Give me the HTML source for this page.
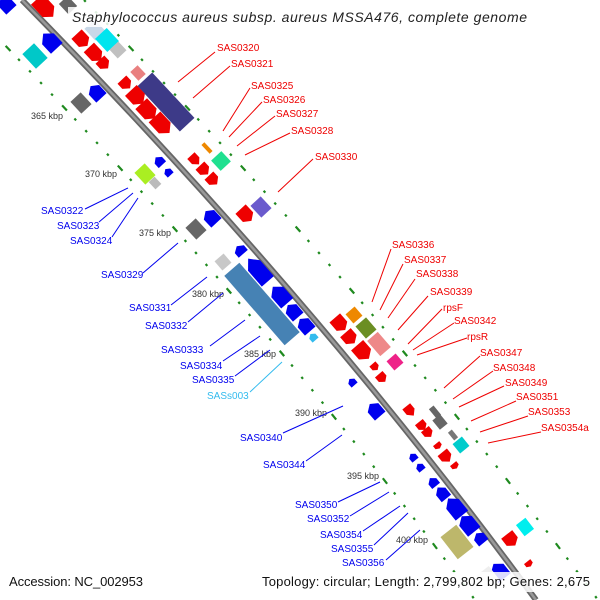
<!DOCTYPE html>
<html><head><meta charset="utf-8"><style>
html,body{margin:0;padding:0;background:#fff;}
svg{display:block;font-family:"Liberation Sans","DejaVu Sans",sans-serif;}
</style></head><body>
<svg width="600" height="600" viewBox="0 0 600 600" xmlns="http://www.w3.org/2000/svg">
<defs>
<path id="bb" d="M22,0 Q316.5,300 536,600"/>
</defs>
<g fill="none" stroke="#1f8a1f" stroke-width="2.2" stroke-dasharray="2.5 13.5 2.5 13.5 2.5 13.5 2.5 13.5 7 11">
<use href="#bb" transform="translate(-61,0)"/>
<use href="#bb" transform="translate(62,0)"/>
</g>
<use href="#bb" fill="none" stroke="#666" stroke-width="6"/>
<use href="#bb" fill="none" stroke="#999" stroke-width="2.5"/>

<g stroke-width="0.5">
<g transform="translate(6,4) rotate(227)"><polygon points="-8,-7 3,-7 8,0 3,7 -8,7" fill="#0000ee"/></g>
<g transform="translate(45,8) rotate(47)"><polygon points="-12,-8 5,-8 12,0 5,8 -12,8" fill="#ee0000"/></g>
<g transform="translate(68,5) rotate(47)"><rect x="-7" y="-6" width="14" height="12" fill="#666"/></g>
<g transform="translate(95,30) rotate(47)"><rect x="-8" y="-7" width="16" height="14" fill="#c8d8e8"/></g>
<g transform="translate(107,40) rotate(47)"><rect x="-9" y="-8" width="18" height="16" fill="#00e5ee"/></g>
<g transform="translate(118,50) rotate(47)"><rect x="-6" y="-6" width="12" height="12" fill="#c0c0c0"/></g>
<g transform="translate(82,40) rotate(47)"><polygon points="-8,-7 3,-7 8,0 3,7 -8,7" fill="#ee0000"/></g>
<g transform="translate(95,54) rotate(47)"><polygon points="-9,-7 3,-7 9,0 3,7 -9,7" fill="#ee0000"/></g>
<g transform="translate(104,64) rotate(47)"><polygon points="-6,-6 1,-6 6,0 1,6 -6,6" fill="#ee0000"/></g>
<g transform="translate(35,56) rotate(47)"><rect x="-10" y="-8" width="20" height="16" fill="#00c8c8"/></g>
<g transform="translate(50,41) rotate(227)"><polygon points="-10,-8 3,-8 10,0 3,8 -10,8" fill="#0000ee"/></g>
<g transform="translate(138,73) rotate(47)"><rect x="-6" y="-5" width="12" height="10" fill="#e98080"/></g>
<g transform="translate(166,102) rotate(47)"><rect x="-31" y="-10" width="62" height="20" fill="#3d3a88"/></g>
<g transform="translate(126,84) rotate(47)"><polygon points="-6,-6 1,-6 6,0 1,6 -6,6" fill="#ee0000"/></g>
<g transform="translate(137,97) rotate(47)"><polygon points="-9,-8 3,-8 9,0 3,8 -9,8" fill="#ee0000"/></g>
<g transform="translate(148,111) rotate(47)"><polygon points="-10,-8 4,-8 10,0 4,8 -10,8" fill="#ee0000"/></g>
<g transform="translate(162,125) rotate(47)"><polygon points="-11,-8 4,-8 11,0 4,8 -11,8" fill="#ee0000"/></g>
<g transform="translate(81,103) rotate(47)"><rect x="-8" y="-7" width="16" height="14" fill="#666"/></g>
<g transform="translate(96,92) rotate(227)"><polygon points="-8,-7 3,-7 8,0 3,7 -8,7" fill="#0000ee"/></g>
<g transform="translate(207,148) rotate(47)"><rect x="-6" y="-2" width="12" height="4" fill="#ee8800"/></g>
<g transform="translate(221,161) rotate(47)"><rect x="-7" y="-7" width="14" height="14" fill="#20e090"/></g>
<g transform="translate(195,160) rotate(47)"><polygon points="-6,-5 1,-5 6,0 1,5 -6,5" fill="#ee0000"/></g>
<g transform="translate(204,170) rotate(47)"><polygon points="-6,-6 1,-6 6,0 1,6 -6,6" fill="#ee0000"/></g>
<g transform="translate(213,180) rotate(47)"><polygon points="-6,-6 1,-6 6,0 1,6 -6,6" fill="#ee0000"/></g>
<g transform="translate(159,161) rotate(227)"><polygon points="-5,-5 1,-5 5,0 1,5 -5,5" fill="#0000ee"/></g>
<g transform="translate(168,172) rotate(227)"><polygon points="-4,-4 1,-4 4,0 1,4 -4,4" fill="#0000ee"/></g>
<g transform="translate(145,174) rotate(47)"><rect x="-8" y="-7" width="16" height="14" fill="#aaee22"/></g>
<g transform="translate(155,183) rotate(47)"><rect x="-5" y="-4" width="10" height="8" fill="#bbb"/></g>
<g transform="translate(246,215) rotate(47)"><polygon points="-8,-7 3,-7 8,0 3,7 -8,7" fill="#ee0000"/></g>
<g transform="translate(261,207) rotate(47)"><rect x="-8" y="-7" width="16" height="14" fill="#6a5acd"/></g>
<g transform="translate(196,229) rotate(47)"><rect x="-8" y="-7" width="16" height="14" fill="#666"/></g>
<g transform="translate(211,217) rotate(227)"><polygon points="-8,-7 3,-7 8,0 3,7 -8,7" fill="#0000ee"/></g>
<g transform="translate(240,250) rotate(229)"><polygon points="-5,-6 1,-6 5,0 1,6 -5,6" fill="#0000ee"/></g>
<g transform="translate(223,262) rotate(49)"><rect x="-6" y="-6" width="12" height="12" fill="#c8c8c8"/></g>
<g transform="translate(262,304) rotate(49)"><rect x="-46" y="-10" width="92" height="20" fill="#4682b4"/></g>
<g transform="translate(258,270) rotate(229)"><polygon points="-15,-8 6,-8 15,0 6,8 -15,8" fill="#0000ee"/></g>
<g transform="translate(280,295) rotate(229)"><polygon points="-11,-8 4,-8 11,0 4,8 -11,8" fill="#0000ee"/></g>
<g transform="translate(293,311) rotate(229)"><polygon points="-8,-7 3,-7 8,0 3,7 -8,7" fill="#0000ee"/></g>
<g transform="translate(305,325) rotate(229)"><polygon points="-8,-7 3,-7 8,0 3,7 -8,7" fill="#0000ee"/></g>
<g transform="translate(313,337) rotate(229)"><polygon points="-4,-4 1,-4 4,0 1,4 -4,4" fill="#33bbee"/></g>
<g transform="translate(354,315) rotate(49)"><rect x="-6" y="-6" width="12" height="12" fill="#ee8800"/></g>
<g transform="translate(366,328) rotate(49)"><rect x="-8" y="-7" width="16" height="14" fill="#6b8e23"/></g>
<g transform="translate(379,344) rotate(49)"><rect x="-10" y="-7" width="20" height="14" fill="#ee8888"/></g>
<g transform="translate(395,362) rotate(49)"><rect x="-6" y="-6" width="12" height="12" fill="#ee2288"/></g>
<g transform="translate(340,324) rotate(49)"><polygon points="-8,-7 3,-7 8,0 3,7 -8,7" fill="#ee0000"/></g>
<g transform="translate(350,338) rotate(49)"><polygon points="-7,-7 2,-7 7,0 2,7 -7,7" fill="#ee0000"/></g>
<g transform="translate(363,352) rotate(49)"><polygon points="-9,-8 3,-8 9,0 3,8 -9,8" fill="#ee0000"/></g>
<g transform="translate(375,367) rotate(49)"><polygon points="-4,-4 1,-4 4,0 1,4 -4,4" fill="#ee0000"/></g>
<g transform="translate(382,378) rotate(49)"><polygon points="-5,-5 1,-5 5,0 1,5 -5,5" fill="#ee0000"/></g>
<g transform="translate(352,382) rotate(229)"><polygon points="-4,-4 1,-4 4,0 1,4 -4,4" fill="#0000ee"/></g>
<g transform="translate(375,410) rotate(229)"><polygon points="-8,-7 3,-7 8,0 3,7 -8,7" fill="#0000ee"/></g>
<g transform="translate(410,411) rotate(51)"><polygon points="-6,-5 1,-5 6,0 1,5 -6,5" fill="#ee0000"/></g>
<g transform="translate(435,412) rotate(51)"><rect x="-6" y="-3" width="12" height="6" fill="#666"/></g>
<g transform="translate(440,422) rotate(51)"><rect x="-6" y="-5" width="12" height="10" fill="#666"/></g>
<g transform="translate(422,426) rotate(51)"><polygon points="-5,-5 1,-5 5,0 1,5 -5,5" fill="#ee0000"/></g>
<g transform="translate(428,433) rotate(51)"><polygon points="-5,-5 1,-5 5,0 1,5 -5,5" fill="#ee0000"/></g>
<g transform="translate(453,435) rotate(51)"><rect x="-5" y="-2.5" width="10" height="5" fill="#777"/></g>
<g transform="translate(461,445) rotate(51)"><rect x="-6" y="-6" width="12" height="12" fill="#00cccc"/></g>
<g transform="translate(438,446) rotate(51)"><polygon points="-3,-4 1,-4 3,0 1,4 -3,4" fill="#ee0000"/></g>
<g transform="translate(446,457) rotate(51)"><polygon points="-6,-6 1,-6 6,0 1,6 -6,6" fill="#ee0000"/></g>
<g transform="translate(455,466) rotate(51)"><polygon points="-3,-4 1,-4 3,0 1,4 -3,4" fill="#ee0000"/></g>
<g transform="translate(413,457) rotate(231)"><polygon points="-4,-4 1,-4 4,0 1,4 -4,4" fill="#0000ee"/></g>
<g transform="translate(420,467) rotate(231)"><polygon points="-4,-4 1,-4 4,0 1,4 -4,4" fill="#0000ee"/></g>
<g transform="translate(433,482) rotate(231)"><polygon points="-5,-5 1,-5 5,0 1,5 -5,5" fill="#0000ee"/></g>
<g transform="translate(442,493) rotate(231)"><polygon points="-7,-6 2,-6 7,0 2,6 -7,6" fill="#0000ee"/></g>
<g transform="translate(455,507) rotate(231)"><polygon points="-11,-8 4,-8 11,0 4,8 -11,8" fill="#0000ee"/></g>
<g transform="translate(468,524) rotate(231)"><polygon points="-10,-8 4,-8 10,0 4,8 -10,8" fill="#0000ee"/></g>
<g transform="translate(480,538) rotate(231)"><polygon points="-6,-6 2,-6 6,0 2,6 -6,6" fill="#0000ee"/></g>
<g transform="translate(457,542) rotate(52)"><rect x="-14" y="-10" width="28" height="20" fill="#bdb76b"/></g>
<g transform="translate(525,527) rotate(52)"><rect x="-7" y="-6" width="14" height="12" fill="#00eeee"/></g>
<g transform="translate(511,540) rotate(52)"><polygon points="-7,-7 2,-7 7,0 2,7 -7,7" fill="#ee0000"/></g>
<g transform="translate(529,564) rotate(52)"><polygon points="-3,-4 1,-4 3,0 1,4 -3,4" fill="#ee0000"/></g>
<g transform="translate(499,571) rotate(232)"><polygon points="-9,-8 3,-8 9,0 3,8 -9,8" fill="#0000ee"/></g>
<g transform="translate(488,578) rotate(52)"><rect x="-9" y="-8" width="18" height="16" fill="#eee"/></g>
</g>

<g font-size="9" fill="#333" text-anchor="end">
<text x="63" y="119">365 kbp</text>
<text x="117" y="177">370 kbp</text>
<text x="171" y="236">375 kbp</text>
<text x="224" y="297">380 kbp</text>
<text x="276" y="357">385 kbp</text>
<text x="327" y="416">390 kbp</text>
<text x="379" y="479">395 kbp</text>
<text x="428" y="543">400 kbp</text>
</g>

<g stroke="#ee0000" stroke-width="1">
<line x1="178" y1="82" x2="215" y2="52"/><line x1="193" y1="98" x2="230" y2="66"/>
<line x1="223" y1="131" x2="250" y2="88"/><line x1="229" y1="137" x2="262" y2="102"/>
<line x1="237" y1="146" x2="275" y2="116"/><line x1="245" y1="155" x2="290" y2="133"/>
<line x1="278" y1="192" x2="313" y2="159"/>
<line x1="372" y1="302" x2="391" y2="249"/><line x1="380" y1="310" x2="403" y2="264"/>
<line x1="388" y1="318" x2="415" y2="279"/><line x1="398" y1="330" x2="428" y2="296"/>
<line x1="408" y1="344" x2="442" y2="309"/><line x1="413" y1="350" x2="454" y2="323"/>
<line x1="417" y1="355" x2="467" y2="338"/><line x1="444" y1="388" x2="480" y2="356"/>
<line x1="453" y1="399" x2="493" y2="371"/><line x1="459" y1="407" x2="504" y2="386"/>
<line x1="471" y1="421" x2="516" y2="401"/><line x1="480" y1="432" x2="528" y2="416"/>
<line x1="488" y1="443" x2="541" y2="432"/>
</g>
<g font-size="10" fill="#ee0000">
<text x="217" y="51">SAS0320</text><text x="231" y="67">SAS0321</text>
<text x="251" y="89">SAS0325</text><text x="263" y="103">SAS0326</text>
<text x="276" y="117">SAS0327</text><text x="291" y="134">SAS0328</text>
<text x="315" y="160">SAS0330</text>
<text x="392" y="248">SAS0336</text><text x="404" y="263">SAS0337</text>
<text x="416" y="277">SAS0338</text><text x="430" y="295">SAS0339</text>
<text x="443" y="311">rpsF</text><text x="454" y="324">SAS0342</text>
<text x="467" y="340">rpsR</text><text x="480" y="356">SAS0347</text>
<text x="493" y="371">SAS0348</text><text x="505" y="386">SAS0349</text>
<text x="516" y="400">SAS0351</text><text x="528" y="415">SAS0353</text>
<text x="541" y="431">SAS0354a</text>
</g>

<g stroke="#0000ee" stroke-width="1">
<line x1="85" y1="209" x2="128" y2="188"/><line x1="99" y1="222" x2="133" y2="193"/>
<line x1="112" y1="237" x2="138" y2="198"/><line x1="143" y1="273" x2="178" y2="243"/>
<line x1="171" y1="305" x2="207" y2="277"/><line x1="188" y1="322" x2="223" y2="293"/>
<line x1="210" y1="346" x2="245" y2="320"/><line x1="223" y1="361" x2="260" y2="336"/>
<line x1="235" y1="376" x2="270" y2="350"/>
<line x1="283" y1="433" x2="343" y2="406"/><line x1="306" y1="461" x2="342" y2="435"/>
<line x1="338" y1="502" x2="380" y2="482"/><line x1="350" y1="516" x2="389" y2="492"/>
<line x1="363" y1="531" x2="400" y2="506"/><line x1="374" y1="545" x2="408" y2="513"/>
<line x1="386" y1="560" x2="420" y2="530"/>
</g>
<line x1="250" y1="392" x2="282" y2="362" stroke="#33bbee" stroke-width="1"/>
<g font-size="10" fill="#0000ee">
<text x="41" y="214">SAS0322</text><text x="57" y="229">SAS0323</text>
<text x="70" y="244">SAS0324</text><text x="101" y="278">SAS0329</text>
<text x="129" y="311">SAS0331</text><text x="145" y="329">SAS0332</text>
<text x="161" y="353">SAS0333</text><text x="180" y="369">SAS0334</text>
<text x="192" y="383">SAS0335</text>
<text x="240" y="441">SAS0340</text><text x="263" y="468">SAS0344</text>
<text x="295" y="508">SAS0350</text><text x="307" y="522">SAS0352</text>
<text x="320" y="538">SAS0354</text><text x="331" y="552">SAS0355</text>
<text x="342" y="566">SAS0356</text>
</g>
<text x="207" y="399" font-size="10" fill="#33bbee">SASs003</text>

<rect x="68" y="7" width="464" height="20" fill="#fff" opacity="0.85"/>
<text x="72" y="22" font-size="14" font-style="italic" fill="#222" textLength="455" lengthAdjust="spacing">Staphylococcus aureus subsp. aureus MSSA476, complete genome</text>
<rect x="0" y="572" width="600" height="20" fill="#fff" opacity="0.85"/>
<text x="9" y="586" font-size="13" fill="#111" textLength="134" lengthAdjust="spacing">Accession: NC_002953</text>
<text x="262" y="586" font-size="13" fill="#111" textLength="328" lengthAdjust="spacing">Topology: circular; Length: 2,799,802 bp; Genes: 2,675</text>
</svg>
</body></html>
